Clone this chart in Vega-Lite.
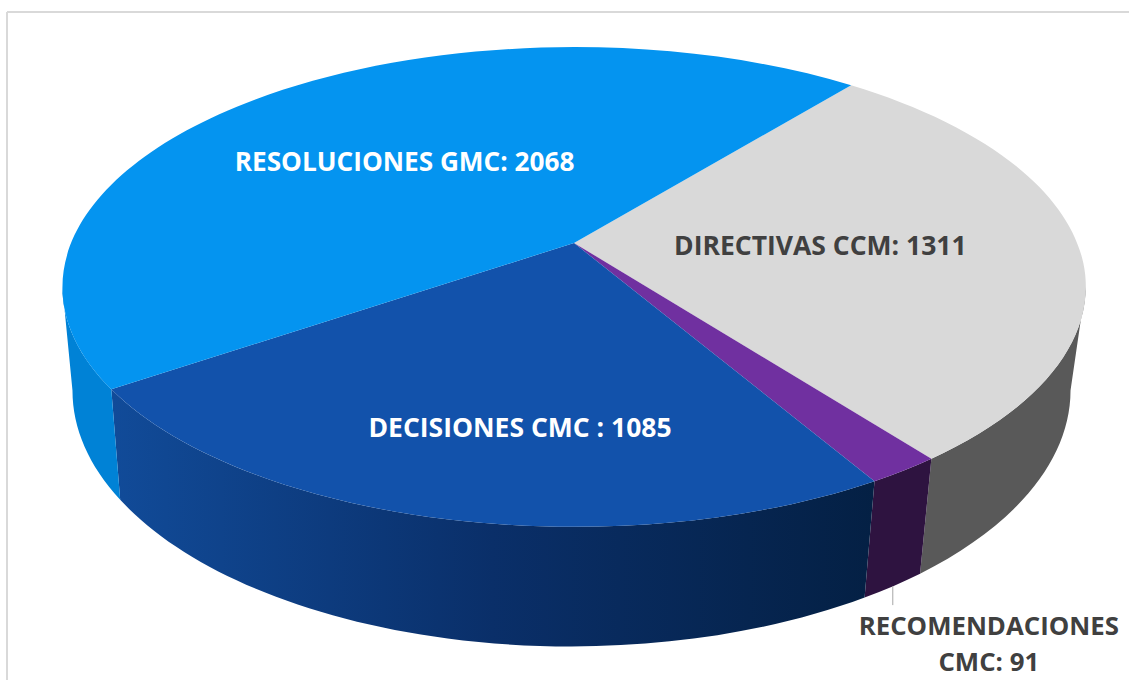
{
"$schema":"https://vega.github.io/schema/vega-lite/v6.json",
"width":1122,"height":668,"padding":{"left":7,"top":12,"right":0,"bottom":0},"autosize":"none","background":"white",
"config":{"view":{"stroke":null},"text":{"font":"Open Sans","fontWeight":700,"fontSize":26.5}},
"data":{"values":[
{"nombre":"DIRECTIVAS CCM","valor":1311,"orden":1,"etiqueta":"DIRECTIVAS CCM: 1311"},
{"nombre":"RECOMENDACIONES CMC","valor":91,"orden":2,"etiqueta":"RECOMENDACIONES\nCMC: 91"},
{"nombre":"DECISIONES CMC","valor":1085,"orden":3,"etiqueta":"DECISIONES CMC : 1085"},
{"nombre":"RESOLUCIONES GMC","valor":2068,"orden":4,"etiqueta":"RESOLUCIONES GMC: 2068"}
]},
"transform":[
{"joinaggregate":[{"op":"sum","field":"valor","as":"total"}]},
{"window":[{"op":"sum","field":"valor","as":"cum"}],"sort":[{"field":"orden"}]},
{"calculate":"(39+360*(datum.cum-datum.valor)/datum.total)*PI/180","as":"a1"},
{"calculate":"(39+360*datum.cum/datum.total)*PI/180","as":"a2"},
{"calculate":"max(datum.a1,100.5*PI/180)","as":"wa"},
{"calculate":"min(datum.a2,259.5*PI/180)","as":"wb"},
{"calculate":"(datum.a1+datum.a2)/2","as":"am"},
{"calculate":"6+503*sin(datum.a1)/(1+0.183*cos(datum.a1))","as":"x1"},
{"calculate":"-103-232*cos(datum.a1)/(1+0.183*cos(datum.a1))","as":"y1"},
{"calculate":"6+503*sin(datum.a2)/(1+0.183*cos(datum.a2))","as":"x2"},
{"calculate":"-103-232*cos(datum.a2)/(1+0.183*cos(datum.a2))","as":"y2"},
{"calculate":"'M6 -103L'+datum.x1+' '+datum.y1+'A512 240 0 0 1 '+datum.x2+' '+datum.y2+'Z'","as":"caraSuperior"},
{"calculate":"6+503*sin(datum.wa)/(1+0.183*cos(datum.wa))","as":"tax"},
{"calculate":"-103-232*cos(datum.wa)/(1+0.183*cos(datum.wa))","as":"tay"},
{"calculate":"6+503*sin(datum.wb)/(1+0.183*cos(datum.wb))","as":"tbx"},
{"calculate":"-103-232*cos(datum.wb)/(1+0.183*cos(datum.wb))","as":"tby"},
{"calculate":"3.5+490.6*sin(datum.wa)/(1+0.183*cos(datum.wa))","as":"bax"},
{"calculate":"-2-247*cos(datum.wa)/(1+0.183*cos(datum.wa))","as":"bay"},
{"calculate":"3.5+490.6*sin(datum.wb)/(1+0.183*cos(datum.wb))","as":"bbx"},
{"calculate":"-2-247*cos(datum.wb)/(1+0.183*cos(datum.wb))","as":"bby"},
{"calculate":"'M'+datum.tax+' '+datum.tay+'A512 240 0 0 1 '+datum.tbx+' '+datum.tby+'L'+datum.bbx+' '+datum.bby+'A499 256 0 0 0 '+datum.bax+' '+datum.bay+'Z'","as":"pared"},
{"calculate":"567+0.55*503*sin(datum.am)/(1+0.183*cos(datum.am))","as":"lx"},
{"calculate":"231-0.55*232*cos(datum.am)/(1+0.183*cos(datum.am))","as":"ly"},
{"calculate":"563+490.6*sin(datum.am)/(1+0.183*cos(datum.am))","as":"mx"},
{"calculate":"332-247*cos(datum.am)/(1+0.183*cos(datum.am))","as":"my"},
{"calculate":"datum.my+19","as":"my2"}
],
"layer":[
{"data":{"values":[{"borde":"izquierda"}]},"transform":[],"mark":{"type":"rule","stroke":"#d9d9d9","strokeWidth":2},"encoding":{"x":{"value":0}}},
{"data":{"values":[{"borde":"arriba"}]},"transform":[],"mark":{"type":"rule","stroke":"#d9d9d9","strokeWidth":2},"encoding":{"y":{"value":0}}},
{"mark":{"type":"point","filled":true,"size":4,"opacity":1},
 "encoding":{"shape":{"field":"pared","type":"nominal","scale":null},
 "fill":{"condition":[
  {"test":"datum.orden==1","value":"#595959"},
  {"test":"datum.orden==2","value":"#2e1340"},
  {"test":"datum.orden==3","value":{"gradient":"linear","x1":0,"y1":0,"x2":1,"y2":0,"stops":[{"offset":0,"color":"#114b99"},{"offset":0.5,"color":"#0a2f69"},{"offset":1,"color":"#042044"}]}}],
  "value":"#0082d6"}}},
{"mark":{"type":"point","filled":true,"size":4,"opacity":1},
 "encoding":{"shape":{"field":"caraSuperior","type":"nominal","scale":null},
 "fill":{"field":"nombre","type":"nominal","legend":null,"scale":{"domain":["DIRECTIVAS CCM","RECOMENDACIONES CMC","DECISIONES CMC","RESOLUCIONES GMC"],"range":["#d9d9d9","#7030a0","#1252ab","#0494f0"]}}}},
{"transform":[{"filter":"datum.orden==2"}],"mark":{"type":"rule","stroke":"#a6a6a6","strokeWidth":1,"xOffset":1},
 "encoding":{"x":{"field":"mx","type":"quantitative","scale":null},"y":{"field":"my","type":"quantitative","scale":null},"y2":{"field":"my2"}}},
{"transform":[{"filter":"datum.orden==1"}],"mark":{"type":"text","color":"#404040","dx":-31,"dy":2,"align":"center","baseline":"middle"},
 "encoding":{"x":{"field":"lx","type":"quantitative","scale":null},"y":{"field":"ly","type":"quantitative","scale":null},"text":{"field":"etiqueta"}}},
{"transform":[{"filter":"datum.orden==3"}],"mark":{"type":"text","color":"white","dx":20,"dy":34,"align":"center","baseline":"middle"},
 "encoding":{"x":{"field":"lx","type":"quantitative","scale":null},"y":{"field":"ly","type":"quantitative","scale":null},"text":{"field":"etiqueta"}}},
{"transform":[{"filter":"datum.orden==4"}],"mark":{"type":"text","color":"white","dx":-4,"dy":3,"align":"center","baseline":"middle","fontSize":26.2},
 "encoding":{"x":{"field":"lx","type":"quantitative","scale":null},"y":{"field":"ly","type":"quantitative","scale":null},"text":{"field":"etiqueta"}}},
{"transform":[{"filter":"datum.orden==2"}],"mark":{"type":"text","color":"#404040","dx":97,"dy":41,"align":"center","baseline":"middle","lineBreak":"\n","lineHeight":36,"fontSize":25.8},
 "encoding":{"x":{"field":"mx","type":"quantitative","scale":null},"y":{"field":"my","type":"quantitative","scale":null},"text":{"field":"etiqueta"}}}
]
}
